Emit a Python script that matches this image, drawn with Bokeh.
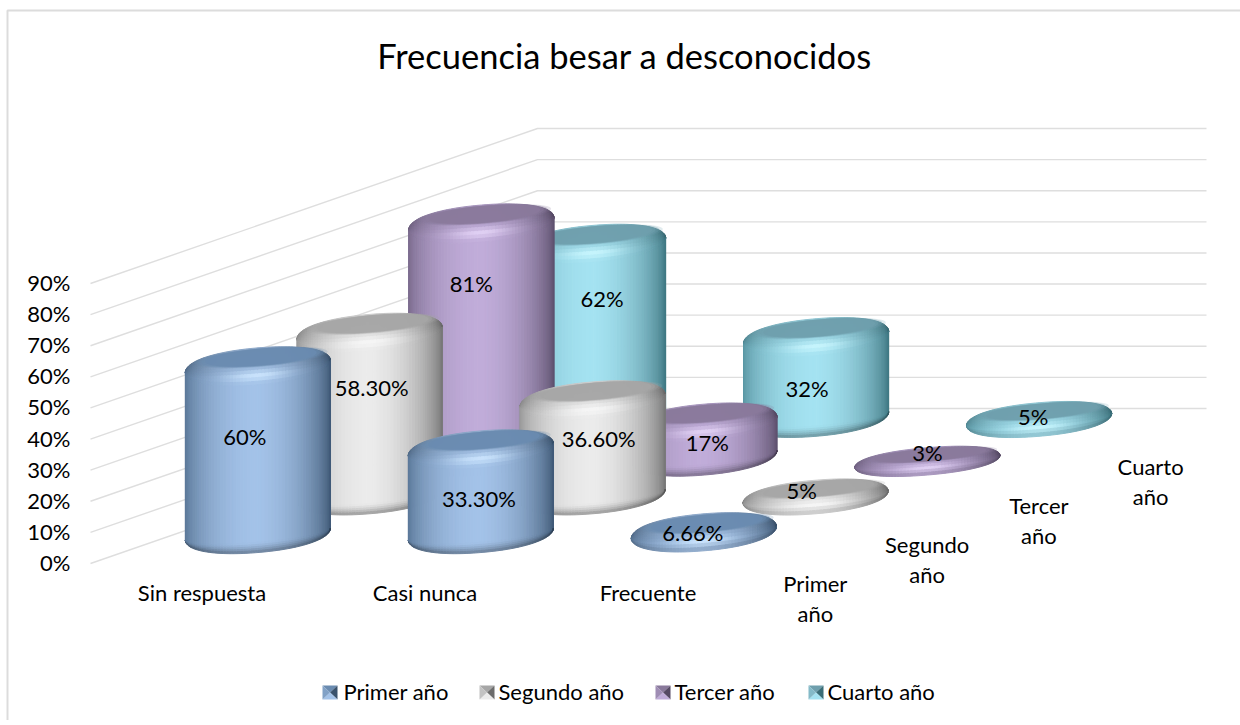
import math
from bokeh.plotting import figure
from bokeh.models import Range1d
from bokeh.core.properties import value
from bokeh.embed import file_html
from bokeh.resources import INLINE

# ---- data
categories = ["Sin respuesta", "Casi nunca", "Frecuente"]
series_names = ["Primer año", "Segundo año", "Tercer año", "Cuarto año"]
series_axis_lines = [["Primer", "año"], ["Segundo", "año"], ["Tercer", "año"], ["Cuarto", "año"]]
primer = [60, 33.3, 6.66]
segundo = [58.3, 36.6, 5]
tercer = [81, 17, 3]
cuarto = [62, 32, 5]
primer_labels = ["60%", "33.30%", "6.66%"]
segundo_labels = ["58.30%", "36.60%", "5%"]
tercer_labels = ["81%", "17%", "3%"]
cuarto_labels = ["62%", "32%", "5%"]
y_ticks = [0, 10, 20, 30, 40, 50, 60, 70, 80, 90]
title = "Frecuencia besar a desconocidos"

values = [primer, segundo, tercer, cuarto]
labels = [primer_labels, segundo_labels, tercer_labels, cuarto_labels]

# ---- styles: (edge, centre, top face, highlight)
palette = [
    ("#44607f", "#a3c2e8", "#6a8bb0", "#cfe8ff"),
    ("#7f7f7f", "#ebebeb", "#a6a6a6", "#f8f8f8"),
    ("#655776", "#c0acd9", "#89799b", "#e6d6f8"),
    ("#44808c", "#a4e2f1", "#6f9fad", "#ccf8ff"),
]
# small shifts of the data labels from the middle of each cylinder
label_dx = [[-13, -2, -11], [2, 6, -14], [-10, 3, 0], [9, -9, -6]]
label_dy = [[-14, 7, -1], [-27, -9, -6], [-57, 3, -9], [-32, 11, -3]]

FONT = "Lato"
LBL = "22px"

# ---- oblique projection of the 3-D plot box
X0, Y0 = 90.0, 563.0
CAT_W, SER_DX, SER_DY, PX_PER = 223.0, 111.75, 38.75, 3.111
WIDTH = 145.0
TILT = 6.0


def proj(c, s, v=0.0):
    return X0 + CAT_W * c + SER_DX * s, Y0 - SER_DY * s - PX_PER * v


def rgb(h):
    return tuple(int(h[i:i + 2], 16) for i in (1, 3, 5))


def mix(a, b, w):
    w = max(0.0, min(1.0, w))
    return tuple(a[i] + (b[i] - a[i]) * w for i in range(3))


def scale(c, m):
    return tuple(min(255, x * m) for x in c)


def tohex(c):
    return "#%02x%02x%02x" % tuple(int(round(x)) for x in c)


def sup(t, p=2.15):
    return max(0.0, 1 - abs(t) ** p) ** (1 / p)


def horiz(t, edge, centre):
    w = max(0.0, 1 - abs(t) ** 2.0) ** 0.75
    if t < 0:
        w = 0.22 + 0.78 * w
    return scale(mix(edge, centre, w), 1 - 0.06 * max(t, 0))


p = figure(width=1240, height=720, x_range=Range1d(0, 1240), y_range=Range1d(720, 0),
           output_backend="svg", toolbar_location=None,
           x_axis_location=None, y_axis_location=None, min_border=0)
p.grid.visible = False
p.outline_line_color = None
p.background_fill_color = "#ffffff"
p.border_fill_color = "#ffffff"

GRID = "#dedede"
# chart frame (only the top and left sides fall inside the page)
p.line([7, 7, 1240], [720, 10, 10], line_color="#dcdcdc", line_width=2)

# ---- walls
xs_g, ys_g = [], []
for v in y_ticks:
    a = proj(0, 0, v)
    b = proj(0, 4, v)
    c = proj(3, 4, v)
    xs_g.append([a[0], b[0], c[0]])
    ys_g.append([a[1], b[1], c[1]])
p.multi_line(xs_g, ys_g, line_color=GRID, line_width=1.4)

# ---- tick labels
tx = [70 for _ in y_ticks]
ty = [proj(0, 0, v)[1] - 1 for v in y_ticks]
p.text(tx, ty, text=["%d%%" % v for v in y_ticks], text_align="right", text_baseline="middle",
       text_font=value(FONT), text_font_size=value(LBL), text_color="#000000")

# ---- cylinders
N_COL = 64
col_t = [math.sin(math.pi / 2 * (-1 + 2 * i / N_COL)) for i in range(N_COL + 1)]


def cylinder(c, s, v, pal):
    edge, centre, face, hi = [rgb(x) for x in pal]
    cx, fy = proj(c + 0.5, s + 0.5)
    half = WIDTH / 2
    bottom = fy + 8.4
    total = 18 + PX_PER * v
    top = bottom - total
    ry = min(18.5, total / 2)
    ct, cb = top + ry, bottom - ry
    body = cb - ct
    tl = lambda t: -TILT * t
    xs, ys, cols = [], [], []

    def add(t0, t1, y00, y01, y10, y11, col):
        xs.append([cx + half * t0, cx + half * t1, cx + half * t1, cx + half * t0])
        ys.append([y00, y10, y11, y01])
        cols.append(tohex(col))

    for i in range(N_COL):
        t0, t1 = col_t[i], col_t[i + 1]
        tm = (t0 + t1) / 2
        base = horiz(tm, edge, centre)
        f0, f1 = sup(t0), sup(t1)
        top0, top1 = ct - ry * f0 + tl(t0), ct - ry * f1 + tl(t1)
        rim0, rim1 = ct + ry * f0 + tl(t0), ct + ry * f1 + tl(t1)
        br0 = max(rim0, cb + ry * 0.45 * f0 + tl(t0))
        br1 = max(rim1, cb + ry * 0.45 * f1 + tl(t1))
        bot0, bot1 = cb + ry * f0 + tl(t0), cb + ry * f1 + tl(t1)
        # rim band with the highlight
        R = 10
        end_dark = 1.0 if body > 15 else 0.84
        for k in range(R):
            a, b = k / R, (k + 1) / R
            w = (a + b) / 2
            glow = math.exp(-((w - 0.76) / 0.13) ** 2) * math.exp(-(tm / 0.40) ** 2)
            shade = 0.86 + 0.14 * min(1, w / 0.85)
            col = mix(scale(base, shade), hi, glow * 0.85)
            if w > 0.76:
                col = scale(col, 1 - (1 - end_dark) * (w - 0.76) / 0.24)
            add(t0, t1, top0 + (rim0 - top0) * a, top0 + (rim0 - top0) * b,
                top1 + (rim1 - top1) * a, top1 + (rim1 - top1) * b, col)
        # straight side
        if br0 > rim0 or br1 > rim1:
            add(t0, t1, rim0, br0, rim1, br1, base)
        # lower bevel
        B = 5
        if body > 3:
            for k in range(B):
                a, b = k / B, (k + 1) / B
                col = scale(base, 1 - 0.34 * ((a + b) / 2) ** 1.6)
                add(t0, t1, br0 + (bot0 - br0) * a, br0 + (bot0 - br0) * b,
                    br1 + (bot1 - br1) * a, br1 + (bot1 - br1) * b, col)
    p.patches(xs, ys, fill_color=cols, line_color=cols, line_width=1)

    # top face, soft at the sides and against the rim
    ryf = ry * 0.47
    for rx_k, ry_k, a in ((0.92, 1.14, 0.20), (0.87, 1.08, 0.32), (0.82, 1.03, 0.5), (0.77, 0.98, 0.85)):
        ex, ey = [], []
        for j in range(60):
            ang = 2 * math.pi * j / 60
            t = rx_k * math.cos(ang)
            back = math.sin(ang) < 0
            ey_r = ryf * (ry_k if not back else 0.98)
            ex.append(cx + half * t + 3)
            ey.append(top + ryf + 0.5 + ey_r * math.sin(ang) + tl(t))
        p.patch(ex, ey, fill_color=tohex(face), fill_alpha=a, line_color=None)


for s in range(3, -1, -1):
    for c in range(3):
        cylinder(c, s, values[s][c], palette[s])

# ---- data labels (drawn above all cylinders)
lx, ly, lt = [], [], []
for s in range(4):
    for c in range(3):
        v = values[s][c]
        cx, fy = proj(c + 0.5, s + 0.5)
        bottom = fy + 8.4
        mid = bottom - (18 + PX_PER * v) / 2
        lx.append(cx + label_dx[s][c])
        ly.append(mid + label_dy[s][c])
        lt.append(labels[s][c])
p.text(lx, ly, text=lt, text_align="center", text_baseline="middle",
       text_font=value(FONT), text_font_size=value(LBL), text_color="#000000")

# ---- category labels
cx_l = [proj(c + 0.5, 0)[0] for c in range(3)]
p.text(cx_l, [592] * 3, text=categories, text_align="center", text_baseline="middle",
       text_font=value(FONT), text_font_size=value(LBL), text_color="#000000")

# ---- series-axis labels
sx, sy, st = [], [], []
for s, lines in enumerate(series_axis_lines):
    x, y = proj(3, s + 0.5)
    for k, line in enumerate(lines):
        sx.append(x)
        sy.append(y + 39 + 30 * k)
        st.append(line)
p.text(sx, sy, text=st, text_align="center", text_baseline="middle",
       text_font=value(FONT), text_font_size=value(LBL), text_color="#000000")

# ---- title
p.text([624], [55], text=[title], text_align="center", text_baseline="middle",
       text_font=value(FONT), text_font_size=value("34.5px"), text_color="#000000")

# ---- legend
key_x = [322, 479, 655, 808]
text_x = [343, 498, 674, 827]
KEY_W, KEY_H = 15, 14
ky = 685
for s in range(4):
    edge, centre, face, hi = [rgb(x) for x in palette[s]]
    x0, x1, y0, y1 = key_x[s], key_x[s] + KEY_W, ky, ky + KEY_H
    mx, my = (x0 + x1) / 2, (y0 + y1) / 2
    p.patches(
        [[x0, x1, mx], [x1, x1, mx], [x0, x1, mx], [x0, x0, mx]],
        [[y0, y0, my], [y0, y1, my], [y1, y1, my], [y0, y1, my]],
        fill_color=[tohex(face), tohex(scale(edge, 0.85)), tohex(centre), tohex(mix(face, centre, 0.4))],
        line_color=None)
p.text(text_x, [691] * 4, text=series_names, text_align="left", text_baseline="middle",
       text_font=value(FONT), text_font_size=value(LBL), text_color="#000000")

open("out.html", "w").write(file_html(p, INLINE))
